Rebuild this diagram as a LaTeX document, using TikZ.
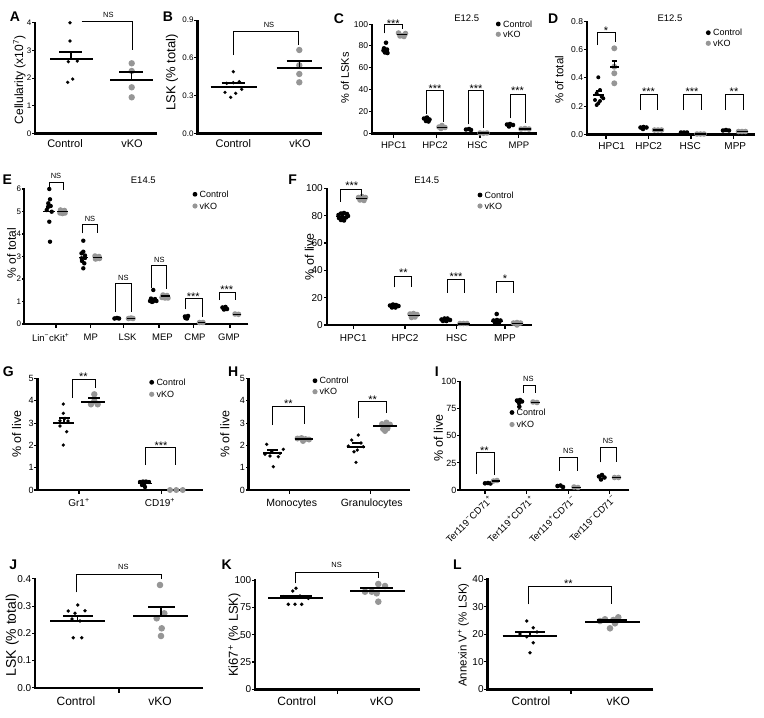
\documentclass[tikz,border=0pt]{standalone}
\usepackage{fontspec}
\setmainfont{Liberation Sans}
\definecolor{vg}{RGB}{150,150,150}
\newcommand{\fsz}[1]{\fontsize{#1}{#1}\selectfont}
\tikzset{
  axis/.style={line width=2.4pt},
  tk/.style={line width=1.1pt},
  brk/.style={line width=0.7pt},
  ml/.style={line width=2pt},
  cl/.style={line width=1.3pt},
  plet/.style={font=\fsz{14}\bfseries,inner sep=0pt},
  tl/.style={anchor=east,inner sep=0pt,font=\fsz{8.5}},
  cat/.style={inner sep=0pt,font=\fsz{10}},
  yl/.style={rotate=90,inner sep=0pt,font=\fsz{12}},
  leg/.style={anchor=west,inner sep=0pt,font=\fsz{9}},
  sig/.style={anchor=base,inner sep=0pt,font=\fsz{11}},
  ns/.style={anchor=base,inner sep=0pt,font=\fsz{7.5}},
}
\begin{document}
\begin{tikzpicture}[x=1pt,y=-1pt]
\useasboundingbox[fill=white] (0,0) rectangle (764,718);

%%%%%%%%%%%%%%%% A
\node[plet] (pA) at (15,17) {A};
\draw[axis] (157,133.3) -- (35,133.3) -- (35,22);
\foreach \v/\y [count=\i] in {0/133.3,1/105.7,2/78.1,3/50.5,4/22.9}{\draw[tk] (35,\y)--(32,\y); \node[tl,font=\fsz{8}] (At\i) at (31.5,\y) {\v};}
\node[yl,font=\fsz{12}] (Ay) at (19.5,80) {Cellularity (x10\textsuperscript{7})};
\node[cat,font=\fsz{11}] (Ac) at (65,144) {Control};
\node[cat,font=\fsz{11}] (Av) at (132,144) {vKO};
\foreach \x/\y in {70/22.7,70/41,68.3/61.7,77.3/61,72.7/79,67.7/82.3} \fill (\x,\y) circle[radius=1.8pt];
\draw[ml] (50,59.3)--(92.7,59.3); \draw[ml] (59,51.7)--(82,51.7); \draw[cl] (71,59.3)--(71,51.7);
\foreach \y in {63.3,71,87.3,97.3} \fill[vg] (131.7,\y) circle[radius=3.2pt];
\draw[ml] (110,80)--(153,80); \draw[ml] (119,72.3)--(143,72.3); \draw[cl] (131.7,80)--(131.7,72.3);
\draw[brk] (81.7,21.7) -- (132.3,21.7) -- (132.3,50);
\node[ns] (Ans) at (108.3,17.7) {NS};

%%%%%%%%%%%%%%%% B
\node[plet] (pB) at (168,17) {B};
\draw[axis] (321.7,133.3) -- (197.3,133.3) -- (197.3,19.5);
\foreach \v/\y [count=\i] in {0.0/133.3,0.3/95.6,0.6/57.9,0.9/20.2}{\draw[tk] (197.3,\y)--(194.3,\y); \node[tl,font=\fsz{8}] (Bt\i) at (193.8,\y) {\v};}
\node[yl,font=\fsz{13}] (By) at (172,72.5) {LSK (\% total)};
\node[cat,font=\fsz{11}] (Bc) at (233.3,144) {Control};
\node[cat,font=\fsz{11}] (Bv) at (300,144) {vKO};
\foreach \x/\y in {233.3/71.7,226.7/83.3,233.3/82.7,239.3/81.7,225/92.3,230.7/97.3,235.7/93.3,241.7/89.3} \fill (\x,\y) circle[radius=1.8pt];
\draw[ml] (210.7,86.7)--(256.7,86.7); \draw[ml] (221.7,83.3)--(245,83.3);
\foreach \y in {50,65.3,74,82.3} \fill[vg] (299.3,\y) circle[radius=3.2pt];
\draw[ml] (276.7,68.3)--(321.7,68.3); \draw[ml] (286.7,61)--(311.7,61); \draw[cl] (299.3,68.3)--(299.3,61);
\draw[brk] (233.3,55)--(233.3,31)--(298.3,31)--(298.3,45);
\node[ns] (Bns) at (269,27.7) {NS};

%%%%%%%%%%%%%%%% C
\node[plet] (pC) at (339,18.3) {C};
\draw[axis] (536.7,133.3) -- (371.7,133.3) -- (371.7,23.5);
\foreach \v/\y [count=\i] in {0/133.3,20/111.5,40/89.6,60/67.8,80/45.9,100/24.1}{\draw[tk] (371.7,\y)--(368.7,\y); \node[tl] (Ct\i) at (368.2,\y) {\v};}
\foreach \x in {393.3,436.7,480,518.3} \draw[tk] (\x,133.3)--(\x,137.5);
\node[cat,font=\fsz{9.5}] (Cx1) at (393.8,145.7) {HPC1};
\node[cat,font=\fsz{9.5}] (Cx2) at (435,145.7) {HPC2};
\node[cat,font=\fsz{9.5}] (Cx3) at (477.5,145.7) {HSC};
\node[cat,font=\fsz{9.5}] (Cx4) at (519,145.7) {MPP};
\node[yl,font=\fsz{11}] (Cy) at (345,78) {\% of LSKs};
\node[cat,font=\fsz{9.5}] (Cti) at (466.7,18.3) {E12.5};
\fill (498.3,24) circle[radius=2.4pt]; \node[leg] (Cl1) at (503,24) {Control};
\fill[vg] (498.3,34.3) circle[radius=2.6pt]; \node[leg] (Cl2) at (503,34.3) {vKO};
% HPC1
\foreach \x/\y in {386/42.7,384/48.3,387/49.5,385/52.5,387.5/53,383.5/50.5,386/51} \fill (\x,\y) circle[radius=2.3pt];
\foreach \x/\y in {398.5/33,402/35.5,405.5/33.5,400/36,404/36.5} \fill[vg] (\x,\y) circle[radius=2.8pt];
\draw[cl] (396.7,34.3)--(407.3,34.3);
\draw[brk] (384.3,33.3)--(384.3,24)--(402.3,24)--(402.3,29.3);
\node[sig] (Cs1) at (393.3,27) {***};
% HPC2
\foreach \x/\y in {424/118.5,427/117.5,429.5/119.5,426/121,428.5/121.5} \fill (\x,\y) circle[radius=2.3pt];
\foreach \x/\y in {439/127,442/125.5,445/127.5,441/128.5} \fill[vg] (\x,\y) circle[radius=2.8pt];
\draw[cl] (437,127.3)--(447,127.3);
\draw[brk] (426.7,114)--(426.7,90.7)--(443.3,90.7)--(443.3,121.7);
\node[sig] (Cs2) at (435,92.3) {***};
% HSC
\foreach \x/\y in {466/129.5,469/129,471/130} \fill (\x,\y) circle[radius=2.3pt];
\foreach \x/\y in {480/133,483.5/133.3,487/133} \fill[vg] (\x,\y) circle[radius=2.8pt];
\draw[cl] (478,133)--(489,133);
\draw[brk] (468.3,124.3)--(468.3,90)--(483.3,90)--(483.3,128.3);
\node[sig] (Cs3) at (476,92.3) {***};
% MPP
\foreach \x/\y in {507/124.5,510/124,513/125,509/126.5} \fill (\x,\y) circle[radius=2.3pt];
\foreach \x/\y in {521/129,525/128.5,529/129} \fill[vg] (\x,\y) circle[radius=2.8pt];
\draw[cl] (519,129)--(531,129);
\draw[brk] (510,118.3)--(510,94)--(525,94)--(525,123.3);
\node[sig] (Cs4) at (517.5,94.6) {***};

%%%%%%%%%%%%%%%% D
\node[plet] (pD) at (553.3,18.3) {D};
\draw[axis] (755,134.3) -- (586.7,134.3) -- (586.7,20.7);
\foreach \v/\y [count=\i] in {0.0/134.3,0.2/106.1,0.4/77.9,0.6/49.6,0.8/21.4}{\draw[tk] (586.7,\y)--(583.7,\y); \node[tl] (Dt\i) at (583.2,\y) {\v};}
\foreach \x in {606,648.3,691,733.3} \draw[tk] (\x,134.3)--(\x,138.5);
\node[cat,font=\fsz{10}] (Dx1) at (611.7,145.7) {HPC1};
\node[cat,font=\fsz{10}] (Dx2) at (648.7,145.7) {HPC2};
\node[cat,font=\fsz{10}] (Dx3) at (690.3,145.7) {HSC};
\node[cat,font=\fsz{10}] (Dx4) at (735.3,145.7) {MPP};
\node[yl,font=\fsz{11.5}] (Dy) at (559.3,80) {\% of total};
\node[cat,font=\fsz{9.5}] (Dti) at (670,18.3) {E12.5};
\fill (708.3,32.7) circle[radius=2.4pt]; \node[leg] (Dl1) at (713,32.7) {Control};
\fill[vg] (708.3,43.3) circle[radius=2.6pt]; \node[leg] (Dl2) at (713,43.3) {vKO};
% HPC1
\foreach \x/\y in {598.3/77.3,600/90,596.7/93.3,601.7/96.7,595/100,598.3/103.3,603.3/98.3,596.7/105,600/101} \fill (\x,\y) circle[radius=2pt];
\draw[ml] (593.3,95)--(604.3,95); \draw[ml] (595.7,90.5)--(601.7,90.5);
\foreach \y in {48.3,66.7,73.3,83.3} \fill[vg] (614.3,\y) circle[radius=3pt];
\draw[ml] (610,66.7)--(619,66.7); \draw[ml] (611.7,60.7)--(617.3,60.7); \draw[cl] (614.3,66.7)--(614.3,60.7);
\draw[brk] (597.3,45)--(597.3,32.3)--(615,32.3)--(615,41.7);
\node[sig] (Ds1) at (606,34.6) {*};
% HPC2
\foreach \x/\y in {640.5/127.5,643.5/127,646.5/127.5,643/129} \fill (\x,\y) circle[radius=2.3pt];
\foreach \x/\y in {654.5/130,658/130,661.5/130} \fill[vg] (\x,\y) circle[radius=2.8pt];
\draw[cl] (653,130)--(663,130);
\draw[brk] (640,110)--(640,94)--(657.3,94)--(657.3,110);
\node[sig] (Ds2) at (648.5,95.3) {***};
% HSC
\foreach \x/\y in {681/132.5,684/132.5,687/132.5} \fill (\x,\y) circle[radius=2.3pt];
\foreach \x/\y in {697/134,700.5/134,704/134} \fill[vg] (\x,\y) circle[radius=2.8pt];
\draw[cl] (695,134)--(706,134);
\draw[brk] (683.3,110)--(683.3,94)--(701.7,94)--(701.7,110);
\node[sig] (Ds3) at (692,95.3) {***};
% MPP
\foreach \x/\y in {723/130.5,726/130,729/130.5} \fill (\x,\y) circle[radius=2.3pt];
\foreach \x/\y in {738.5/131.5,742/131.5,745.5/131.5} \fill[vg] (\x,\y) circle[radius=2.8pt];
\draw[cl] (736.5,131.5)--(747.5,131.5);
\draw[brk] (725,110)--(725,94)--(743.3,94)--(743.3,110);
\node[sig] (Ds4) at (734,95.3) {**};

%%%%%%%%%%%%%%%% E
\node[plet] (pE) at (7.3,180) {E};
\draw[axis] (248.3,324) -- (24,324) -- (24,188);
\foreach \v/\y [count=\i] in {0/324,1/301.5,2/279,3/256.5,4/234,5/211.5,6/189}{\draw[tk] (24,\y)--(21.5,\y); \node[tl,font=\fsz{8}] (Et\i) at (21.3,\y) {\v};}
\foreach \x in {56,90.3,123.7,159,193.7,230} \draw[tk] (\x,324)--(\x,328.2);
\node[cat,font=\fsz{9.5}] (Ex1) at (50.7,337.7) {Lin\textsuperscript{−}cKit\textsuperscript{+}};
\node[cat,font=\fsz{9.5}] (Ex2) at (90.8,337.7) {MP};
\node[cat,font=\fsz{9.5}] (Ex3) at (127.5,337.7) {LSK};
\node[cat,font=\fsz{9.5}] (Ex4) at (162.5,337.7) {MEP};
\node[cat,font=\fsz{9.5}] (Ex5) at (195,337.7) {CMP};
\node[cat,font=\fsz{9.5}] (Ex6) at (229,337.7) {GMP};
\node[yl,font=\fsz{12}] (Ey) at (11.5,253.3) {\% of total};
\node[cat,font=\fsz{9.5}] (Eti) at (143.3,180) {E14.5};
\fill (195,194.3) circle[radius=2.4pt]; \node[leg] (El1) at (199.5,194.3) {Control};
\fill[vg] (195,206) circle[radius=2.6pt]; \node[leg] (El2) at (199.5,206) {vKO};
% Lin-cKit+
\foreach \x/\y in {49.3/189,50/199.3,48.3/203.3,50.7/206,46.7/210,51.7/211.7,49.3/221.7,50/241.7,48/207} \fill (\x,\y) circle[radius=2.2pt];
\draw[cl] (43.3,211.7)--(55,211.7);
\foreach \x/\y in {60.5/210,64.5/210.5,62.5/213.5,60/213,65/213} \fill[vg] (\x,\y) circle[radius=2.8pt];
\draw[cl] (57.3,211.7)--(68.3,211.7);
\draw[brk] (49.3,187)--(49.3,182.7)--(63.3,182.7)--(63.3,190);
\node[ns] (Es1) at (56,178.7) {NS};
% MP
\foreach \x/\y in {83.3/240.7,83.3/251.7,81.5/253.3,85/255.5,81.7/258.3,84.3/263.3,83.3/268.3,85/258,82/261} \fill (\x,\y) circle[radius=2.2pt];
\draw[cl] (79,257.3)--(88.3,257.3);
\foreach \x/\y in {95/256,99/256.5,97/258.5,95.5/259,99.5/258.5} \fill[vg] (\x,\y) circle[radius=2.8pt];
\draw[cl] (92.7,257.3)--(101.7,257.3);
\draw[brk] (82.7,233.3)--(82.7,224)--(97.3,224)--(97.3,233.3);
\node[ns] (Es2) at (90,221) {NS};
% LSK
\foreach \x/\y in {114.5/318.5,117/318,119/318.5} \fill (\x,\y) circle[radius=2.3pt];
\foreach \x/\y in {128.5/318.5,131/318,133/318.5} \fill[vg] (\x,\y) circle[radius=2.8pt];
\draw[cl] (126.5,318.3)--(135,318.3);
\draw[brk] (115.7,311.7)--(115.7,283.3)--(131,283.3)--(131,311.7);
\node[ns] (Es3) at (123.3,280) {NS};
% MEP
\foreach \x/\y in {153.3/290,151/298.5,155/299,150/301,153/301.5,156.5/301,152/302} \fill (\x,\y) circle[radius=2.2pt];
\draw[cl] (148.5,299.5)--(158,299.5);
\foreach \x/\y in {163/295,167/295.5,165/298,162/297.5,168/298} \fill[vg] (\x,\y) circle[radius=2.8pt];
\draw[cl] (160.5,296)--(170,296);
\draw[brk] (151.7,288.3)--(151.7,265.7)--(166.7,265.7)--(166.7,289.3);
\node[ns] (Es4) at (159.3,262) {NS};
% CMP
\foreach \x/\y in {185/316.5,188/316,187/318.5,185.5/318} \fill (\x,\y) circle[radius=2.3pt];
\foreach \x/\y in {199.5/322.5,203/322.5} \fill[vg] (\x,\y) circle[radius=2.8pt];
\draw[cl] (198,322.3)--(205,322.3);
\draw[brk] (185.7,309.3)--(185.7,298.3)--(202.3,298.3)--(202.3,316.7);
\node[sig] (Es5) at (193.3,300.3) {***};
% GMP
\foreach \x/\y in {222.5/307.5,225.5/307,224/309.5,227/309} \fill (\x,\y) circle[radius=2.3pt];
\foreach \x/\y in {235/314,238.5/314.3} \fill[vg] (\x,\y) circle[radius=2.8pt];
\draw[cl] (233,314.3)--(241,314.3);
\draw[brk] (219.3,300)--(219.3,292.7)--(235,292.7)--(235,300);
\node[sig] (Es6) at (226.7,293.6) {***};

%%%%%%%%%%%%%%%% F
\node[plet] (pF) at (292.7,180) {F};
\draw[axis] (531.7,325) -- (326.7,325) -- (326.7,187.5);
\foreach \v/\y [count=\i] in {0/325,20/297.7,40/270.3,60/243,80/215.7,100/188.3}{\draw[tk] (326.7,\y)--(323.7,\y); \node[tl,font=\fsz{10}] (Ft\i) at (323,\y) {\v};}
\foreach \x in {353.3,405,456.7,505} \draw[tk] (\x,325)--(\x,329.2);
\node[cat,font=\fsz{10}] (Fx1) at (353.3,338.3) {HPC1};
\node[cat,font=\fsz{10}] (Fx2) at (405,338.3) {HPC2};
\node[cat,font=\fsz{10}] (Fx3) at (456.7,338.3) {HSC};
\node[cat,font=\fsz{10}] (Fx4) at (505,338.3) {MPP};
\node[yl,font=\fsz{12.5}] (Fy) at (309.5,256.7) {\% of live};
\node[cat,font=\fsz{9.5}] (Fti) at (426.7,180) {E14.5};
\fill (480,195) circle[radius=2.4pt]; \node[leg] (Fl1) at (484.5,195) {Control};
\fill[vg] (480,206) circle[radius=2.6pt]; \node[leg] (Fl2) at (484.5,206) {vKO};
% HPC1
\foreach \x/\y in {338.5/215,341/213.5,344/213,347/214,339/218,342.5/217,346/217.5,341/220,344/220.5,348/216} \fill (\x,\y) circle[radius=2.3pt];
\draw[cl] (336,216.5)--(349.5,216.5);
\foreach \x/\y in {358.5/197.5,362/196.5,365.5/197.5,360/200,364/200.5} \fill[vg] (\x,\y) circle[radius=2.8pt];
\draw[cl] (356,198.3)--(367.3,198.3);
\draw[brk] (340,201.7)--(340,189.3)--(361.7,189.3)--(361.7,196);
\node[sig] (Fs1) at (351.7,189.8) {***};
% HPC2
\foreach \x/\y in {390/305.5,393/304.5,396/305,398.5/306,392/307.5,395.5/307.5} \fill (\x,\y) circle[radius=2.3pt];
\foreach \x/\y in {410/314,413.5/313.5,417/314.5,411.5/317.5,415/317} \fill[vg] (\x,\y) circle[radius=2.8pt];
\draw[cl] (408,315.7)--(419.5,315.7);
\draw[brk] (394.3,287.3)--(394.3,276)--(411.7,276)--(411.7,287.3);
\node[sig] (Fs2) at (403.3,276.8) {**};
% HSC
\foreach \x/\y in {441.5/319.5,444.5/318.5,447.5/318.5,450/320,443/321,446.5/321} \fill (\x,\y) circle[radius=2.3pt];
\foreach \x/\y in {460/323.5,463.5/323.5,467/323.5} \fill[vg] (\x,\y) circle[radius=2.8pt];
\draw[cl] (458,324)--(470,324);
\draw[brk] (447.3,292.7)--(447.3,279.3)--(464.3,279.3)--(464.3,292.7);
\node[sig] (Fs3) at (456,280.6) {***};
% MPP
\foreach \x/\y in {496.7/314,493.5/320.5,497/320,500.5/320.5,495/322.5,499/322.5} \fill (\x,\y) circle[radius=2.3pt];
\draw[cl] (491,321.5)--(503,321.5);
\foreach \x/\y in {513.5/323,517/322.5,520.5/323,517/325} \fill[vg] (\x,\y) circle[radius=2.8pt];
\draw[cl] (511.5,323.3)--(523,323.3);
\draw[brk] (496.7,292.7)--(496.7,281.7)--(513.3,281.7)--(513.3,292.7);
\node[sig] (Fs4) at (505,282.8) {*};

%%%%%%%%%%%%%%%% G
\node[plet] (pG) at (8.3,371.7) {G};
\draw[axis] (202.7,490) -- (37.3,490) -- (37.3,377.5);
\foreach \v/\y [count=\i] in {0/490,1/467.7,2/445.4,3/423.1,4/400.8,5/378.5}{\draw[tk] (37.3,\y)--(34.3,\y); \node[tl,font=\fsz{9}] (Gt\i) at (33.8,\y) {\v};}
\foreach \x in {79,161.7} \draw[tk] (\x,490)--(\x,494.2);
\node[cat,font=\fsz{10}] (Gx1) at (79,502.7) {Gr1\textsuperscript{+}};
\node[cat,font=\fsz{10}] (Gx2) at (160,502.7) {CD19\textsuperscript{+}};
\node[yl,font=\fsz{12.5}] (Gy) at (16.7,434.2) {\% of live};
\fill (151.7,382.3) circle[radius=2.4pt]; \node[leg] (Gl1) at (156.3,382.3) {Control};
\fill[vg] (151.7,394.3) circle[radius=2.6pt]; \node[leg] (Gl2) at (156.3,394.3) {vKO};
\foreach \x/\y in {63.3/404,63.3/413.3,65/418.3,60/420.7,60/426,66.7/431.7,63.3/445,68/421} \fill (\x,\y) circle[radius=1.8pt];
\draw[ml] (53.3,423.3)--(74,423.3); \draw[ml] (59.3,418.3)--(70,418.3); \draw[cl] (64,423.3)--(64,418.3);
\foreach \x/\y in {94.3/394.3,91/404.3,97.7/404.3,94.3/401} \fill[vg] (\x,\y) circle[radius=3.2pt];
\draw[ml] (81,401.7)--(105,401.7); \draw[ml] (88.3,398.3)--(100.3,398.3);
\draw[brk] (72.7,398)--(72.7,379)--(95,379)--(95,388.3);
\node[sig] (Gs1) at (83.3,380.8) {**};
\foreach \x/\y in {140/482,143/481.5,146/481.5,149/482,144/484.5,145/487,142/485} \fill (\x,\y) circle[radius=2.2pt];
\draw[cl] (138,483.3)--(152,483.3);
\foreach \x in {170,176.3,182.7} \fill[vg] (\x,490) circle[radius=3pt];
\draw[brk] (145.7,465)--(145.7,447.7)--(175.7,447.7)--(175.7,465);
\node[sig] (Gs2) at (161,449.3) {***};

%%%%%%%%%%%%%%%% H
\node[plet] (pH) at (233.3,371.7) {H};
\draw[axis] (410,490) -- (248.5,490) -- (248.5,377.5);
\foreach \v/\y [count=\i] in {0/490,1/467.7,2/445.4,3/423.1,4/400.8,5/378.5}{\draw[tk] (248.5,\y)--(245.5,\y); \node[tl,font=\fsz{9}] (Ht\i) at (245,\y) {\v};}
\foreach \x in {289.3,370.7} \draw[tk] (\x,490)--(\x,494.2);
\node[cat,font=\fsz{10.5}] (Hx1) at (291.7,504) {Monocytes};
\node[cat,font=\fsz{10.5}] (Hx2) at (371.7,504) {Granulocytes};
\node[yl,font=\fsz{12.5}] (Hy) at (225,434.2) {\% of live};
\fill (315,380.7) circle[radius=2.4pt]; \node[leg] (Hl1) at (319.5,380.7) {Control};
\fill[vg] (315,391.7) circle[radius=2.6pt]; \node[leg] (Hl2) at (319.5,391.7) {vKO};
\foreach \x/\y in {266.7/444.3,283.3/449.3,265/454.3,270/456,278.3/456.7,273.3/466.7,271.7/451.7,280/453.3} \fill (\x,\y) circle[radius=1.8pt];
\draw[ml] (263.3,453.3)--(281.7,453.3); \draw[ml] (267,450)--(278,450);
\foreach \x/\y in {297.5/438.5,301.5/438,305.5/439,309/439.5,303/441} \fill[vg] (\x,\y) circle[radius=3pt];
\draw[ml] (295,439.3)--(313.3,439.3);
\draw[brk] (272.7,425)--(272.7,406)--(304,406)--(304,424);
\node[sig] (Hs1) at (288.3,407.3) {**};
\foreach \x/\y in {358.3/435,351.7/440,363.3/446.7,348.3/446,357.3/450,354/451.7,356/462.3,361/443} \fill (\x,\y) circle[radius=1.8pt];
\draw[ml] (346.7,446.7)--(365,446.7); \draw[ml] (351.7,443.3)--(361.7,443.3);
\foreach \x/\y in {382/424,386.5/422.5,390/424.5,383/429,387.5/428.5,385/431} \fill[vg] (\x,\y) circle[radius=3pt];
\draw[ml] (373.3,426)--(396.7,426);
\draw[brk] (358.3,418.3)--(358.3,401.7)--(386.7,401.7)--(386.7,412.7);
\node[sig] (Hs2) at (372.7,403) {**};

%%%%%%%%%%%%%%%% I
\node[plet] (pI) at (436.7,371.7) {I};
\draw[axis] (629.3,490) -- (460,490) -- (460,380.6);
\foreach \v/\y [count=\i] in {0/490,25/462.9,50/435.8,75/408.7,100/381.6}{\draw[tk] (460,\y)--(457,\y); \node[tl,font=\fsz{9}] (It\i) at (456.5,\y) {\v};}
\foreach \x in {485,526.7,568.3,609.3} \draw[tk] (\x,490)--(\x,494.2);
\node[cat,font=\fsz{9.5},rotate=45,anchor=north east] (Ix1) at (488,494.5) {Ter119\textsuperscript{−}CD71\textsuperscript{+}};
\node[cat,font=\fsz{9.5},rotate=45,anchor=north east] (Ix2) at (529.7,494.5) {Ter119\textsuperscript{+}CD71\textsuperscript{+}};
\node[cat,font=\fsz{9.5},rotate=45,anchor=north east] (Ix3) at (571.3,494.5) {Ter119\textsuperscript{+}CD71\textsuperscript{−}};
\node[cat,font=\fsz{9.5},rotate=45,anchor=north east] (Ix4) at (612.3,494.5) {Ter119\textsuperscript{−}CD71\textsuperscript{−}};
\node[yl,font=\fsz{12.5}] (Iy) at (438.3,438.3) {\% of live};
\fill (512,412.5) circle[radius=2.4pt]; \node[leg] (Il1) at (516.5,412.5) {Control};
\fill[vg] (512,424.5) circle[radius=2.6pt]; \node[leg] (Il2) at (516.5,424.5) {vKO};
\foreach \x/\y in {485/483.3,488/483,490.5/483.5} \fill (\x,\y) circle[radius=2.3pt];
\foreach \x/\y in {493.5/481,497/480.5} \fill[vg] (\x,\y) circle[radius=2.8pt];
\draw[cl] (491.5,481)--(500,481);
\draw[brk] (476,474)--(476,452.7)--(494,452.7)--(494,475);
\node[sig] (Is1) at (484.3,454.8) {**};
\foreach \x/\y in {517/400.5,520/400,522/401.5,519/403,519.3/406.7} \fill (\x,\y) circle[radius=2.3pt];
\draw[cl] (515.5,402)--(524,402);
\foreach \x/\y in {533/402,537/402.5} \fill[vg] (\x,\y) circle[radius=2.8pt];
\draw[cl] (530.5,402.5)--(539.5,402.5);
\draw[brk] (523.3,392.7)--(523.3,385)--(535,385)--(535,392.7);
\node[ns] (Is2) at (528.3,381.2) {NS};
\foreach \x/\y in {557.5/486,560.5/485.5,563/487} \fill (\x,\y) circle[radius=2.3pt];
\foreach \x/\y in {574/487,578/487.5} \fill[vg] (\x,\y) circle[radius=2.8pt];
\draw[cl] (571.5,487.5)--(581,487.5);
\draw[brk] (559.3,470.7)--(559.3,457.3)--(577.3,457.3)--(577.3,470.7);
\node[ns] (Is3) at (568.3,453.4) {NS};
\foreach \x/\y in {599/476.5,602/475,604.5/477.5,601/479.5} \fill (\x,\y) circle[radius=2.3pt];
\foreach \x/\y in {614.5/477.5,618.5/477.5} \fill[vg] (\x,\y) circle[radius=2.8pt];
\draw[cl] (612,477.7)--(621,477.7);
\draw[brk] (600,462.3)--(600,447.7)--(616.7,447.7)--(616.7,462.3);
\node[ns] (Is4) at (608,443.7) {NS};

%%%%%%%%%%%%%%%% J
\node[plet] (pJ) at (13.3,565) {J};
\draw[axis] (203,687.7) -- (35,687.7) -- (35,578);
\foreach \v/\y [count=\i] in {0.0/687.7,0.1/660.5,0.2/633.3,0.3/606.1,0.4/578.9}{\draw[tk] (35,\y)--(32,\y); \node[tl,font=\fsz{10}] (Jt\i) at (31.5,\y) {\v};}
\draw[tk] (119,687.7)--(119,692.5);
\node[cat,font=\fsz{12}] (Jc) at (76,701) {Control};
\node[cat,font=\fsz{12}] (Jv) at (160,701) {vKO};
\node[yl,font=\fsz{14}] (Jy) at (12.2,635) {LSK (\% total)};
\foreach \x/\y in {77.7/605,68.3/611,85/610.7,75/613.3,80/621,73.3/637.7,81.7/637.7,72/619} \fill (\x,\y) circle[radius=1.9pt];
\draw[ml] (50,620.7)--(105,620.7); \draw[ml] (63.3,616)--(93.3,616); \draw[cl] (77.5,620.7)--(77.5,616);
\foreach \x/\y in {160/585,164.3/613.3,156.7/618.3,161.7/628.3,161/636} \fill[vg] (\x,\y) circle[radius=3.3pt];
\draw[ml] (133.3,616)--(188.3,616); \draw[ml] (148.3,607.3)--(175,607.3); \draw[cl] (161,616)--(161,607.3);
\draw[brk] (76,592.3)--(76,574)--(161,574)--(161,579);
\node[ns] (Jns) at (123.3,569.2) {NS};

%%%%%%%%%%%%%%%% K
\node[plet] (pK) at (226.7,565) {K};
\draw[axis] (420,689.3) -- (255,689.3) -- (255,579.2);
\foreach \v/\y [count=\i] in {0/689.3,25/662,50/634.7,75/607.4,100/580.1}{\draw[tk] (255,\y)--(252,\y); \node[tl,font=\fsz{10}] (Kt\i) at (251.5,\y) {\v};}
\draw[tk] (337.3,689.3)--(337.3,694);
\node[cat,font=\fsz{12}] (Kc) at (296.7,701) {Control};
\node[cat,font=\fsz{12}] (Kv) at (381.7,701) {vKO};
\node[yl,font=\fsz{13}] (Ky) at (234.5,635) {Ki67\textsuperscript{+} (\% LSK)};
\foreach \x/\y in {296/588.3,292.7/591,283.3/596.7,300/596,308.3/598.3,288.3/604.3,295/604.3,301.7/604.3,305/597} \fill (\x,\y) circle[radius=1.9pt];
\draw[ml] (268.3,597.7)--(323.3,597.7); \draw[ml] (280,596)--(311.7,596);
\foreach \x/\y in {371.7/591.7,378.3/584,385/586,365/591.7,376.7/593.3,378.3/601.7} \fill[vg] (\x,\y) circle[radius=3.3pt];
\draw[ml] (350,591)--(405,591); \draw[ml] (360,588.3)--(393.3,588.3);
\draw[brk] (295,583.3)--(295,572.7)--(378.3,572.7)--(378.3,578.3);
\node[ns] (Kns) at (336.7,567.7) {NS};

%%%%%%%%%%%%%%%% L
\node[plet] (pL) at (457.3,565) {L};
\draw[axis] (653.3,689.3) -- (487.3,689.3) -- (487.3,578.4);
\foreach \v/\y [count=\i] in {0/689.3,10/661.8,20/634.3,30/606.8,40/579.3}{\draw[tk] (487.3,\y)--(484.3,\y); \node[tl,font=\fsz{10}] (Lt\i) at (483.8,\y) {\v};}
\draw[tk] (571,689.3)--(571,694);
\node[cat,font=\fsz{12}] (Lc) at (531,701) {Control};
\node[cat,font=\fsz{12}] (Lv) at (618.3,701) {vKO};
\node[yl,font=\fsz{11.5}] (Ly) at (463.3,635) {Annexin V\textsuperscript{+} (\% LSK)};
\foreach \x/\y in {526.7/621,533.3/627.7,526.7/636.7,533.3/642.7,530/652.7,520/634,537/632} \fill (\x,\y) circle[radius=1.9pt];
\draw[ml] (502.7,635.7)--(557.3,635.7); \draw[ml] (515,631.7)--(545,631.7); \draw[cl] (530,635.7)--(530,631.7);
\foreach \x/\y in {605/619.3,613.3/620,618.3/617.3,615/623.3,610/628.3,600/621} \fill[vg] (\x,\y) circle[radius=3.3pt];
\draw[ml] (585,621.7)--(640,621.7); \draw[ml] (596.7,620)--(626.7,620);
\draw[brk] (528.3,604.3)--(528.3,586.7)--(611.7,586.7)--(611.7,604.3);
\node[sig] (Ls1) at (568.3,587) {**};

\end{tikzpicture}
\end{document}
